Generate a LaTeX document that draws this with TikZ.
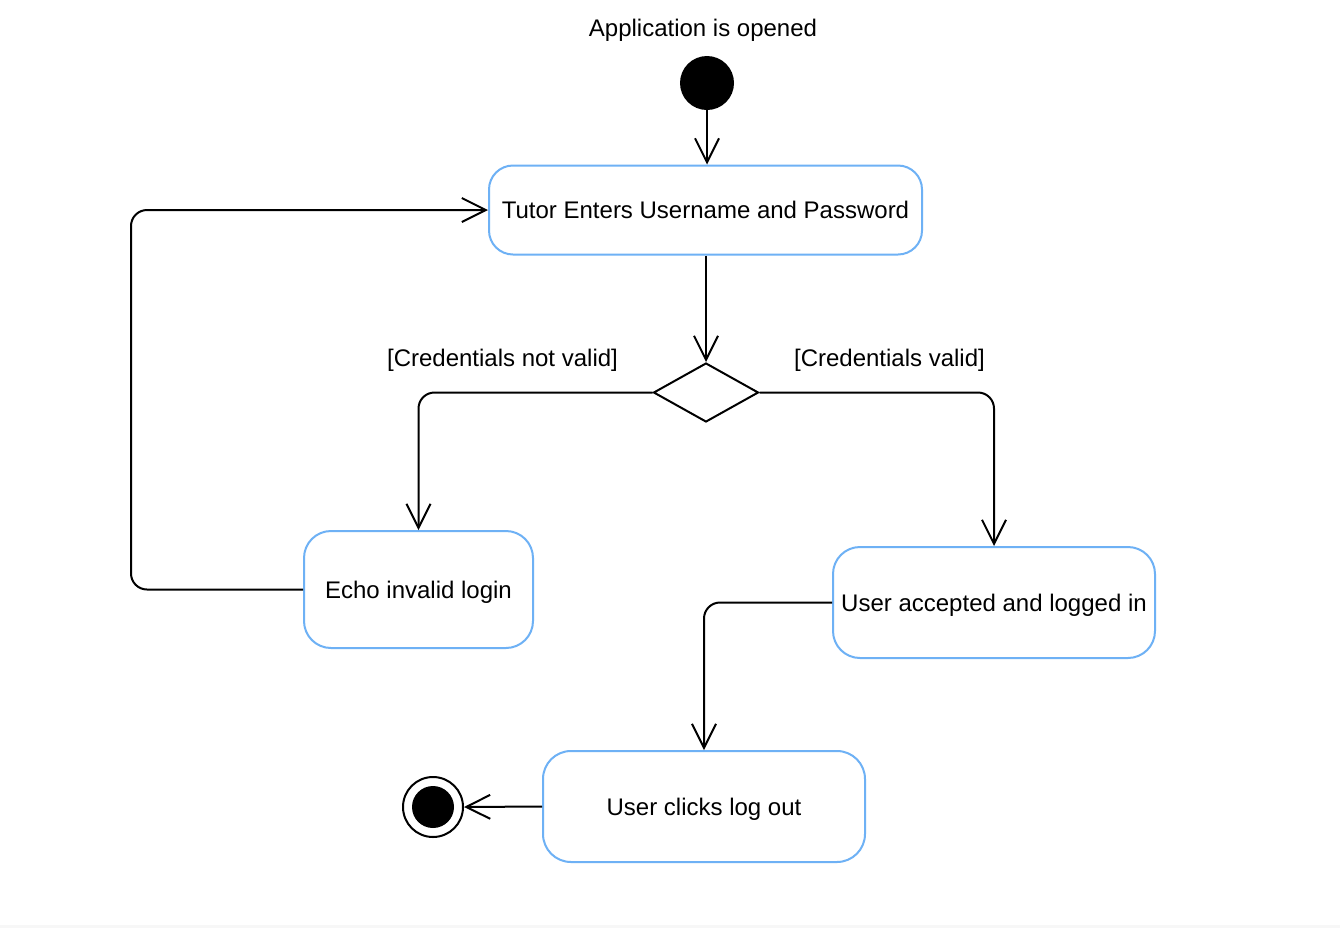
\documentclass[tikz,border=0pt]{standalone}
\usepackage{fontspec}
\setmainfont{Liberation Sans}
\usetikzlibrary{arrows.meta,shapes.geometric}
\definecolor{boxblue}{RGB}{110,177,245}
\begin{document}
\begin{tikzpicture}[x=0.5pt,y=-0.5pt,
  every node/.style={font=\fontsize{12}{14}\selectfont},
  txt/.style={text height=8.6pt, text depth=0pt},
  state/.style={txt, draw=boxblue, line width=1pt, rounded corners=12pt, fill=white, inner sep=0pt},
  flow/.style={draw=black, line width=1pt, rounded corners=8pt, -{Straight Barb[length=12pt,width=12pt]}},
  lbl/.style={txt, inner sep=0pt}]
\useasboundingbox (0,0) rectangle (1340,928);
\fill[white] (0,0) rectangle (1340,928);
\fill[gray!6] (0,925) rectangle (1340,928);

\node[lbl] (title) at (703,28) {Application is opened};
\node[circle, fill=black, inner sep=0pt, minimum size=27pt] (start) at (707,83) {};
\node[state, minimum width=216.5pt, minimum height=44.5pt] (b1) at (705.5,210) {Tutor Enters Username and Password};
\node[diamond, draw, line width=1pt, inner sep=0pt, minimum width=52.5pt, minimum height=29.5pt] (dia) at (706,392.5) {};
\node[lbl] (lno) at (502.5,358) {[Credentials not valid]};
\node[lbl] (lyes) at (889.5,358) {[Credentials valid]};
\node[state, rounded corners=13.5pt, minimum width=114.5pt, minimum height=58.5pt] (echo) at (418.5,589.5) {Echo invalid login};
\node[state, rounded corners=13.5pt, minimum width=161pt, minimum height=55.5pt] (acc) at (994,602.5) {User accepted and logged in};
\node[state, rounded corners=14pt, minimum width=161pt, minimum height=55.5pt] (out) at (704,806.5) {User clicks log out};
\node[circle, draw, line width=1pt, inner sep=0pt, minimum size=30pt] (end) at (433,807) {};
\node[circle, fill=black, inner sep=0pt, minimum size=21pt] (endin) at (433,807) {};
\coordinate (lp) at (131,211);

\draw[flow] (start.south) -- (start.south |- b1.north);
\draw[flow] (dia.north |- b1.south) -- (dia.north);
\draw[flow] (dia.west) -| (echo.north);
\draw[flow] (dia.east) -| (acc.north);
\draw[flow] (acc.west) -| (out.north);
\draw[flow] (out.west) -- (end.east);
\draw[flow] (echo.west) -- (echo.west -| lp) |- (b1.west);
\end{tikzpicture}
\end{document}
